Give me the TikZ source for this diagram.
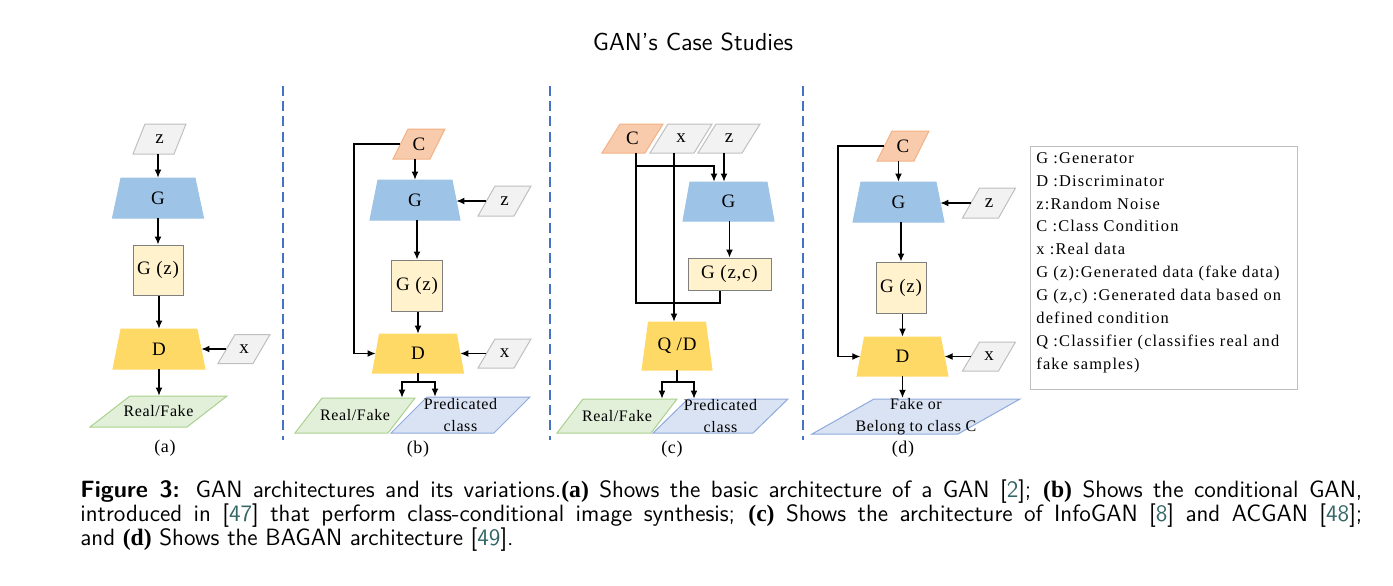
\documentclass[tikz,border=0pt]{standalone}
\usepackage{fontspec}
\usetikzlibrary{arrows.meta}
\newfontfamily\dfont[LetterSpace=4]{Liberation Serif}
\newfontfamily\legfont[LetterSpace=7]{Liberation Serif}
\newfontfamily\capserif{Liberation Serif}
\definecolor{gblue}{HTML}{9DC3E6}
\definecolor{dyel}{HTML}{FFD966}
\definecolor{gzfill}{HTML}{FFF2CC}
\definecolor{gzline}{HTML}{7F7F7F}
\definecolor{grayfill}{HTML}{F2F2F2}
\definecolor{grayline}{HTML}{BFBFBF}
\definecolor{cfill}{HTML}{F8CBAD}
\definecolor{cline}{HTML}{F4B183}
\definecolor{greenfill}{HTML}{E2F0D9}
\definecolor{greenline}{HTML}{A9D18E}
\definecolor{bluefill}{HTML}{DAE3F3}
\definecolor{blueline}{HTML}{8FAADC}
\definecolor{sepblue}{HTML}{4472C4}
\definecolor{citecol}{HTML}{336666}
\newcommand{\cit}[1]{[{\color{citecol}#1}]}
\newcommand{\outf}{\dfont\fontsize{8}{10}\selectfont}
% parallelogram: #1 style, #2 name, #3 cx, #4 cy, #5 edge length, #6 slant, #7 height, #8 text
\newcommand{\mypara}[8]{%
  \draw[#1] ({#3-#5/2-#6/2},{#4+#7/2}) -- ({#3+#5/2-#6/2},{#4+#7/2}) -- ({#3+#5/2+#6/2},{#4-#7/2}) -- ({#3-#5/2+#6/2},{#4-#7/2}) -- cycle;
  \node[lbl, minimum width=#5*0.5pt, minimum height=#7*0.5pt] (#2) at (#3,#4) {#8};}
% trapezoid: #1 style, #2 name, #3 cx, #4 cy, #5 top, #6 bottom, #7 height, #8 text
\newcommand{\mytrap}[8]{%
  \draw[#1] ({#3-#6/2},{#4+#7/2}) -- ({#3+#6/2},{#4+#7/2}) -- ({#3+#5/2},{#4-#7/2}) -- ({#3-#5/2},{#4-#7/2}) -- cycle;
  \node[lbl, minimum width=#5*0.25pt+#6*0.25pt, minimum height=#7*0.5pt] (#2) at (#3,#4) {#8};}
\begin{document}
\begin{tikzpicture}[x=0.5pt,y=-0.5pt,
  lbl/.style={rectangle, inner sep=0pt, align=center, font=\dfont\fontsize{9.5}{11}\selectfont},
  gshape/.style={fill=gblue, draw=gblue, line width=0.5pt},
  dshape/.style={fill=dyel, draw=dyel, line width=0.5pt},
  grayshape/.style={fill=grayfill, draw=grayline, line width=0.5pt},
  cshape/.style={fill=cfill, draw=cline, line width=0.5pt},
  greenshape/.style={fill=greenfill, draw=greenline, line width=0.5pt},
  blueshape/.style={fill=bluefill, draw=blueline, line width=0.5pt},
  gzbox/.style={lbl, fill=gzfill, draw=gzline, line width=0.5pt},
  sublabel/.style={font=\dfont\fontsize{9}{11}\selectfont, inner sep=0pt},
  arr/.style={-{Latex[length=4pt,width=3.4pt]}, line width=0.55pt},
  ln/.style={line width=0.55pt},
  sep/.style={draw=sepblue, line width=0.8pt, dash pattern=on 5pt off 2.6pt},
  capf/.style={anchor=base west, inner sep=0pt, font=\sffamily\fontsize{11.8}{14}\selectfont}
]
\useasboundingbox (0,0) rectangle (1393,585);

% title
\node[font=\sffamily\fontsize{12.3}{14}\selectfont, inner sep=0pt] (title) at (693,42) {GAN's Case Studies};

% separators
\draw[sep] (283,86) -- (283,440);
\draw[sep] (550,86) -- (550,440);
\draw[sep] (803,86) -- (803,440);

% ---------- (a)
\mypara{grayshape}{za}{159.5}{139}{41}{12}{30}{z}
\mytrap{gshape}{Ga}{158}{198}{74}{91}{40}{G}
\node[gzbox, minimum width=25pt, minimum height=25pt] (Gza) at (158,270) {G (z)};
\mytrap{dshape}{Da}{159}{349}{76}{92}{40}{D}
\mypara{grayshape}{xa}{244}{349}{35}{17}{29}{x}
\mypara{greenshape}{RFa}{158.5}{411.5}{97}{40}{31}{\outf Real/Fake}
\node[sublabel] (la) at (165,448) {(a)};
\draw[arr] (Ga.north |- za.south) -- (Ga.north);
\draw[arr] (Gza.north |- Ga.south) -- (Gza.north);
\draw[arr] (Da.north |- Gza.south) -- (Da.north);
\draw[arr] (xa.west) -- (Da.east |- xa.west);
\draw[arr] (Da.south) -- (Da.south |- RFa.north);

% ---------- (b)
\coordinate (bL) at (354,0);
\coordinate (jbl) at (402,382);
\coordinate (jbr) at (435,382);
\mypara{cshape}{Cb}{419}{144}{37}{15}{30}{C}
\mytrap{gshape}{Gb}{415}{200}{74}{90}{40}{G}
\mypara{grayshape}{zb}{504.5}{201}{36}{17}{30}{z}
\node[gzbox, minimum width=25.5pt, minimum height=25.5pt] (Gzb) at (417,285.5) {G (z)};
\mytrap{dshape}{Db}{418}{353.5}{77}{91}{39}{D}
\mypara{grayshape}{xb}{504.5}{353.5}{36}{17}{29}{x}
\mypara{greenshape}{RFb}{355}{415.5}{93}{27}{35}{\outf Real/Fake}
\mypara{blueshape}{PCb}{460.5}{415}{103}{36}{36}{\outf Predicated\\\outf class}
\node[sublabel] (lb) at (418,449) {(b)};
\draw[arr] (Gb.north |- Cb.south) -- (Gb.north);
\draw[arr] (zb.west) -- (Gb.east |- zb.west);
\draw[arr] (Gzb.north |- Gb.south) -- (Gzb.north);
\draw[arr] (Db.north |- Gzb.south) -- (Db.north);
\draw[arr] (xb.west) -- (Db.east |- xb.west);
\draw[arr] (Cb.west) -- (bL |- Cb.west) -- (bL |- Db.west) -- (Db.west);
\draw[arr] (Db.south) -- (Db.south |- jbl) -- (jbl) -- (jbl |- RFb.north);
\draw[arr] (Db.south |- jbl) -- (jbr) -- (jbr |- PCb.north);

% ---------- (c)
\coordinate (cC) at (636,166);
\coordinate (cC2) at (714,166);
\coordinate (cB) at (636,303);
\coordinate (cB2) at (720,303);
\coordinate (xl) at (674,0);
\coordinate (zl) at (724,0);
\coordinate (jcl) at (662,382);
\coordinate (jcr) at (694,382);
\mypara{cshape}{Cc}{632.5}{138.5}{43}{18}{29}{C}
\mypara{grayshape}{xc}{681}{138.5}{44}{18}{29}{x}
\mypara{grayshape}{zc}{729}{138.5}{44}{18}{29}{z}
\mytrap{gshape}{Gc}{728.5}{201.5}{77}{91}{39}{G}
\node[gzbox, minimum width=41.5pt, minimum height=16pt] (Gzcc) at (729.5,274) {G (z,c)};
\mytrap{dshape}{QD}{677}{346}{57}{70}{48}{Q /D}
\mypara{greenshape}{RFc}{617}{416}{94}{26}{34}{\outf Real/Fake}
\mypara{blueshape}{PCc}{720.5}{416}{100}{35}{34}{\outf Predicated\\\outf class}
\node[sublabel] (lc) at (672,449) {(c)};
\draw[ln] (Cc.south -| cC) -- (cB) -- (cB2) -- (cB2 |- Gzcc.south);
\draw[arr] (cC) -- (cC2) -- (cC2 |- Gc.north);
\draw[arr] (xc.south -| xl) -- (xl |- QD.north);
\draw[arr] (zc.south -| zl) -- (zl |- Gc.north);
\draw[arr] (Gzcc.north |- Gc.south) -- (Gzcc.north);
\draw[arr] (QD.south) -- (QD.south |- jcl) -- (jcl) -- (jcl |- RFc.north);
\draw[arr] (QD.south |- jcl) -- (jcr) -- (jcr |- PCc.north);

% ---------- (d)
\coordinate (dL) at (838,0);
\mypara{cshape}{Cd}{903}{146}{37}{15}{30}{C}
\mytrap{gshape}{Gd}{898.5}{202}{75}{91}{40}{G}
\mypara{grayshape}{zd}{989}{203}{36}{17}{30}{z}
\node[gzbox, minimum width=25pt, minimum height=25.5pt] (Gzd) at (901,287.5) {G (z)};
\mytrap{dshape}{Dd}{902.5}{356.5}{76}{91}{39}{D}
\mypara{grayshape}{xd}{989}{356.5}{36}{17}{29}{x}
\mypara{blueshape}{FB}{916}{416.5}{146}{62}{35}{\outf Fake or\\\outf Belong to class C}
\node[sublabel] (ld) at (903,449) {(d)};
\draw[arr] (Gd.north |- Cd.south) -- (Gd.north);
\draw[arr] (zd.west) -- (Gd.east |- zd.west);
\draw[arr] (Gzd.north |- Gd.south) -- (Gzd.north);
\draw[arr] (Dd.north |- Gzd.south) -- (Dd.north);
\draw[arr] (xd.west) -- (Dd.east |- xd.west);
\draw[arr] (Cd.west) -- (dL |- Cd.west) -- (dL |- Dd.west) -- (Dd.west);
\draw[arr] (Dd.south) -- (Dd.south |- FB.north);

% ---------- legend
\node[draw=grayline, line width=0.5pt, anchor=north west, minimum width=133.5pt, minimum height=121.5pt, inner sep=0pt] (legbox) at (1030,146) {};
\node[anchor=north west, align=left, inner sep=0pt, font=\legfont\fontsize{8.2}{11.45}\selectfont] (legtext) at (1036,152) {G :Generator\\D :Discriminator\\z:Random Noise\\C :Class Condition\\x :Real data\\G (z):Generated data (fake data)\\G (z,c) :Generated data based on\\defined condition\\Q :Classifier (classifies real and\\fake samples)};

% ---------- caption
\node[capf] (cap1) at (80,497) {\makebox[641pt][s]{\textbf{Figure 3:} GAN architectures and its variations.\textbf{\capserif (a)} Shows the basic architecture of a GAN \cit{2}; \textbf{\capserif (b)} Shows the conditional GAN,}};
\node[capf] (cap2) at (80,521) {\makebox[641pt][s]{introduced in \cit{47} that perform class-conditional image synthesis; \textbf{\capserif (c)} Shows the architecture of InfoGAN \cit{8} and ACGAN \cit{48};}};
\node[capf] (cap3) at (80,545) {and \textbf{\capserif (d)} Shows the BAGAN architecture \cit{49}.};
\end{tikzpicture}
\end{document}
